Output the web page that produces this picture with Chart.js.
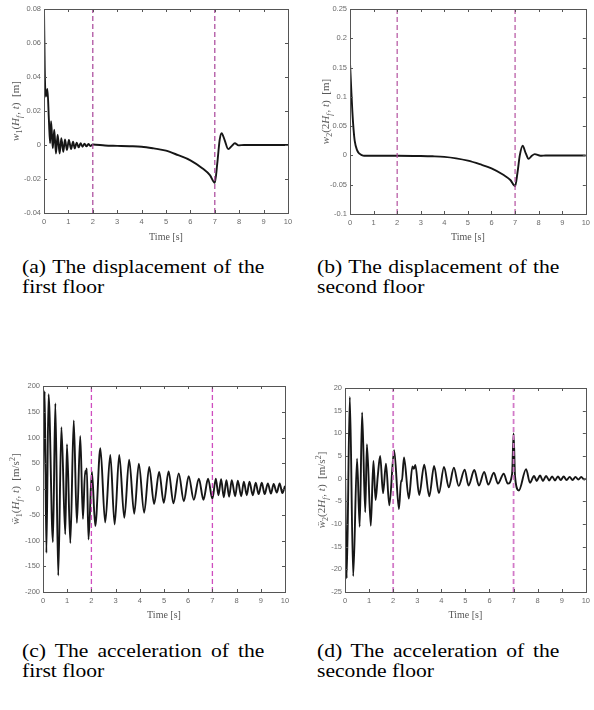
<!DOCTYPE html>
<html>
<head>
<meta charset="utf-8">
<script src="https://cdn.jsdelivr.net/npm/chart.js@4.4.1/dist/chart.umd.min.js"></script>
<style>
  html, body { margin: 0; padding: 0; background: #fff; }
  body { width: 594px; height: 710px; position: relative; overflow: hidden; }
  .panel { position: absolute; }
  .caption {
    position: absolute; width: 202px;
    font-family: 'Liberation Serif', 'Times New Roman', serif;
    font-size: 18px; line-height: 20px; color: #000;
    text-align: justify; transform: scaleX(1.2); transform-origin: 0 0;
  }
</style>
</head>
<body>

<div class="panel" style="left:0;top:0"><canvas id="dispFirst" width="297" height="248"></canvas></div>
<div class="panel" style="left:297px;top:0"><canvas id="dispSecond" width="297" height="248"></canvas></div>
<div class="caption" style="left:22px;top:257px">(a) The displacement of the first floor</div>
<div class="caption" style="left:317px;top:257px">(b) The displacement of the second floor</div>

<div class="panel" style="left:0;top:360px"><canvas id="accFirst" width="297" height="266"></canvas></div>
<div class="panel" style="left:297px;top:360px"><canvas id="accSecond" width="297" height="266"></canvas></div>
<div class="caption" style="left:22px;top:641px">(c) The acceleration of the first floor</div>
<div class="caption" style="left:317px;top:641px">(d) The acceleration of the seconde floor</div>

<script>
// switching instants of the controller [s]
const switchTimes = [2, 7];
const timeTicks = { min: 0, max: 10, step: 1 };

// w1(Hf,t) [m]
const dispFirstT = [0, 0.03, 0.07, 0.1, 0.14, 0.2, 0.25, 0.29, 0.36, 0.42, 0.49, 0.56, 0.64, 0.71, 0.79, 0.86, 0.94, 1.02, 1.11, 1.19, 1.26, 1.34, 1.42, 1.5, 1.58, 1.66, 1.74, 1.82, 1.9, 2.0, 2.5, 3.0, 3.5, 4.0, 4.5, 5.0, 5.5, 6.0, 6.5, 6.8, 7.0, 7.1, 7.2, 7.28, 7.4, 7.55, 7.7, 7.82, 7.97, 8.2, 9, 10];
const dispFirstW = [0.08, 0.045, 0.0285, 0.03, 0.033, 0.015, 0.001, 0.014, -0.002, 0.009, -0.005, 0.006, -0.005, 0.004, -0.004, 0.0033, -0.003, 0.003, -0.0024, 0.002, -0.002, 0.0014, -0.0014, 0.001, -0.001, 0.0008, -0.0008, 0.0006, -0.0006, 0.0003, -0.0003, -0.0005, -0.0007, -0.001, -0.002, -0.0033, -0.006, -0.009, -0.0138, -0.0177, -0.0222, -0.011, 0.003, 0.0069, 0.003, -0.0024, -0.0005, 0.001, -0.0002, 0, 0, 0];

// w2(2Hf,t) [m]
const dispSecondT = [0, 0.05, 0.1, 0.15, 0.2, 0.3, 0.4, 0.5, 0.6, 1, 2, 3, 3.5, 4, 4.5, 5, 5.5, 6, 6.5, 6.8, 7.0, 7.1, 7.2, 7.32, 7.45, 7.57, 7.7, 7.83, 8.08, 8.3, 9, 10];
const dispSecondW = [0.158, 0.115, 0.075, 0.045, 0.025, 0.009, 0.003, 0.0005, -0.0005, -0.0005, -0.0005, -0.001, -0.0015, -0.0025, -0.005, -0.009, -0.015, -0.022, -0.033, -0.042, -0.0525, -0.03, 0.0, 0.0166, 0.004, -0.0057, -0.001, 0.0023, -0.0006, 0, 0, 0];

// acceleration of floor 1 [m/s^2]
const accFirstT = [0, 0.07, 0.14, 0.23, 0.41, 0.51, 0.63, 0.76, 0.92, 0.99, 1.13, 1.27, 1.40, 1.54, 1.65, 1.74, 1.77, 1.81, 1.88, 2.02, 2.16, 2.37, 2.57, 2.78, 2.96, 3.15, 3.36, 3.56, 3.77, 3.96, 4.18, 4.39, 4.59, 4.80, 4.99, 5.19, 5.39, 5.61, 5.82, 6.02, 6.23, 6.44, 6.63, 6.82, 7.0, 7.14, 7.25, 7.36, 7.47, 7.58, 7.69, 7.80, 7.94, 8.05, 8.19, 8.30, 8.42, 8.53, 8.67, 8.79, 8.91, 9.04, 9.16, 9.29, 9.42, 9.53, 9.66, 9.78, 9.89, 10];
const accFirstA = [20, 190, -124, 184, -103, 166, -168, 120, -88, 87, -105, 133, -66, 103, -58, 35, 30, 40, -98, 34, -72, 79, -65, 66, -69, 66, -56, 57, -48, 49, -46, 43, -29, 33, -27, 34, -28, 30, -24, 25, -21, 20, -21, 20, -19, 20, -12, 19, -16, 17, -15, 17, -14, 16, -14, 14, -12, 14, -12, 12, -10, 12, -10, 11, -9, 10, -7, 11, -8, 6];

// acceleration of floor 2 [m/s^2]
const accSecondT = [0, 0.07, 0.2, 0.34, 0.5, 0.61, 0.71, 0.84, 0.91, 1.07, 1.18, 1.27, 1.36, 1.46, 1.58, 1.70, 1.84, 2.04, 2.24, 2.33, 2.36, 2.45, 2.65, 2.80, 2.86, 2.92, 3.08, 3.29, 3.50, 3.70, 3.90, 4.11, 4.31, 4.52, 4.72, 4.97, 5.13, 5.37, 5.56, 5.78, 5.95, 6.18, 6.35, 6.59, 6.76, 6.94, 7.0, 7.06, 7.22, 7.52, 7.68, 7.85, 7.96, 8.10, 8.22, 8.35, 8.48, 8.60, 8.72, 8.84, 8.96, 9.08, 9.20, 9.33, 9.45, 9.57, 9.69, 9.81, 9.93, 10];
const accSecondA = [3, -22, 18, -21.5, 4.4, -10.6, 14.6, -7.4, 7.6, -10.4, 3.9, -4.7, 0.5, 5.0, -3.2, 3.3, -5.9, 6.3, -6.7, -0.4, -0.6, 4.7, -4.4, 2.7, 2.2, 3.0, -3.6, 3.1, -3.9, 2.8, -3.2, 2.6, -1.9, 2.4, -1.6, 2.0, -1.5, 1.9, -1.5, 1.5, -1.3, 1.3, -1.1, 1.1, -1.1, 1.1, 10, 0.5, -2.6, 2.1, -0.9, 0.6, -0.5, 0.7, -0.5, 0.6, -0.4, 0.5, -0.4, 0.5, -0.3, 0.5, -0.3, 0.4, -0.3, 0.4, -0.2, 0.4, -0.2, 0];

// y-axis label pieces: [text, style] with i = italic, n = upright, s = subscript, si = italic subscript, p = superscript
const dispFirstLabel = [['w', 'i'], ['1', 's'], ['(', 'n'], ['H', 'i'], ['f', 'si'], [', ', 'n'], ['t', 'i'], [')  [m]', 'n']];
const dispSecondLabel = [['w', 'i'], ['2', 's'], ['(2', 'n'], ['H', 'i'], ['f', 'si'], [', ', 'n'], ['t', 'i'], [')  [m]', 'n']];
const accFirstLabel = [['ẅ', 'i'], ['1', 's'], ['(', 'n'], ['H', 'i'], ['f', 'si'], [', ', 'n'], ['t', 'i'], [')  [m/s', 'n'], ['2', 'p'], [']', 'n']];
const accSecondLabel = [['ẅ', 'i'], ['2', 's'], ['(2', 'n'], ['H', 'i'], ['f', 'si'], [', ', 'n'], ['t', 'i'], [')  [m/s', 'n'], ['2', 'p'], [']', 'n']];

const tickFont = { family: 'Liberation Sans, Arial, sans-serif', size: 7.5 };
const tickColor = '#6a6a6a';
const axisColor = '#555';

// box around the plot with inward ticks on all four sides
const frame = {
  id: 'frame',
  afterDraw(chart) {
    const { ctx, chartArea: a, scales } = chart;
    ctx.save();
    ctx.strokeStyle = axisColor;
    ctx.lineWidth = 1;
    ctx.strokeRect(Math.round(a.left) + 0.5, Math.round(a.top) + 0.5,
                   Math.round(a.right - a.left), Math.round(a.bottom - a.top));
    ctx.beginPath();
    scales.x.ticks.forEach(t => {
      const px = Math.round(scales.x.getPixelForValue(t.value)) + 0.5;
      ctx.moveTo(px, a.bottom); ctx.lineTo(px, a.bottom - 3);
      ctx.moveTo(px, a.top); ctx.lineTo(px, a.top + 3);
    });
    scales.y.ticks.forEach(t => {
      const py = Math.round(scales.y.getPixelForValue(t.value)) + 0.5;
      ctx.moveTo(a.left, py); ctx.lineTo(a.left + 3, py);
      ctx.moveTo(a.right, py); ctx.lineTo(a.right - 3, py);
    });
    ctx.stroke();
    ctx.restore();
  }
};

// rotated y label with sub/superscripts
const ylabel = {
  id: 'ylabel',
  afterDraw(chart, args, opts) {
    const { ctx, chartArea: a } = chart;
    const fam = 'Liberation Serif, Times New Roman, serif';
    const fontOf = st => {
      if (st === 's' || st === 'p') return '8px ' + fam;
      if (st === 'si') return 'italic 8px ' + fam;
      if (st === 'i') return 'italic 11px ' + fam;
      return '11px ' + fam;
    };
    ctx.save();
    ctx.translate(a.left - opts.offset, (a.top + a.bottom) / 2);
    ctx.rotate(-Math.PI / 2);
    ctx.fillStyle = '#5a5a5a';
    ctx.textBaseline = 'alphabetic';
    let total = 0;
    opts.parts.forEach(([txt, st]) => { ctx.font = fontOf(st); total += ctx.measureText(txt).width + (st === 'si' ? 1 : 0); });
    let x = -total / 2;
    opts.parts.forEach(([txt, st]) => {
      ctx.font = fontOf(st);
      let dy = 4;
      if (st === 's' || st === 'si') dy = 6.5;
      if (st === 'p') dy = -0.5;
      ctx.fillText(txt, x, dy);
      x += ctx.measureText(txt).width + (st === 'si' ? 1 : 0);
    });
    ctx.restore();
  }
};

function fmt(v) {
  return Number(v.toFixed(2)).toString();
}

function drawPanel(id, ts, vs, yMin, yMax, yStep, label, box) {
  const curve = ts.map((t, i) => ({ x: t, y: vs[i] }));
  const markers = switchTimes.map(t => ({
    data: [{ x: t, y: yMin }, { x: t, y: yMax }],
    borderColor: box.dash,
    borderWidth: box.dashWidth,
    borderDash: [5, 3],
    pointRadius: 0
  }));
  new Chart(document.getElementById(id), {
    type: 'line',
    data: {
      datasets: markers.concat([{
        data: curve,
        borderColor: '#161616',
        borderWidth: 1.9,
        pointRadius: 0,
        cubicInterpolationMode: 'monotone'
      }])
    },
    options: {
      responsive: false,
      animation: false,
      events: [],
      layout: { padding: box.pad },
      plugins: {
        legend: { display: false },
        tooltip: { enabled: false },
        ylabel: { parts: label, offset: box.labelOffset }
      },
      scales: {
        x: {
          type: 'linear',
          min: timeTicks.min, max: timeTicks.max,
          grid: { display: false, drawTicks: false },
          border: { display: false },
          ticks: { stepSize: timeTicks.step, font: tickFont, color: tickColor, padding: 4, maxRotation: 0 },
          title: {
            display: true, text: 'Time [s]', color: '#555',
            font: { family: 'Liberation Serif, Times New Roman, serif', size: 10 },
            padding: { top: 0, bottom: 5 }
          },
          afterFit: s => { s.height = box.xh; }
        },
        y: {
          min: yMin, max: yMax,
          grid: { display: false, drawTicks: false },
          border: { display: false },
          ticks: { stepSize: yStep, font: tickFont, color: tickColor, padding: 3, callback: fmt },
          afterFit: s => { s.width = box.yw; }
        }
      }
    },
    plugins: [frame, ylabel]
  });
}

drawPanel('dispFirst', dispFirstT, dispFirstW, -0.04, 0.08, 0.02, dispFirstLabel,
  { pad: { top: 9, right: 9, left: 0, bottom: 0 }, yw: 44, xh: 35, labelOffset: 29, dash: '#a8449a', dashWidth: 1.2 });
drawPanel('dispSecond', dispSecondT, dispSecondW, -0.1, 0.25, 0.05, dispSecondLabel,
  { pad: { top: 9, right: 4, left: 0, bottom: 0 }, yw: 53, xh: 34, labelOffset: 25, dash: '#b4509f', dashWidth: 1.2 });
drawPanel('accFirst', accFirstT, accFirstA, -200, 200, 50, accFirstLabel,
  { pad: { top: 26, right: 12, left: 0, bottom: 0 }, yw: 43, xh: 34, labelOffset: 28, dash: '#cf4dbf', dashWidth: 1.3 });
drawPanel('accSecond', accSecondT, accSecondA, -25, 20, 5, accSecondLabel,
  { pad: { top: 28, right: 4, left: 0, bottom: 0 }, yw: 48, xh: 34, labelOffset: 24, dash: '#d27ac8', dashWidth: 1.8 });
</script>
</body>
</html>
